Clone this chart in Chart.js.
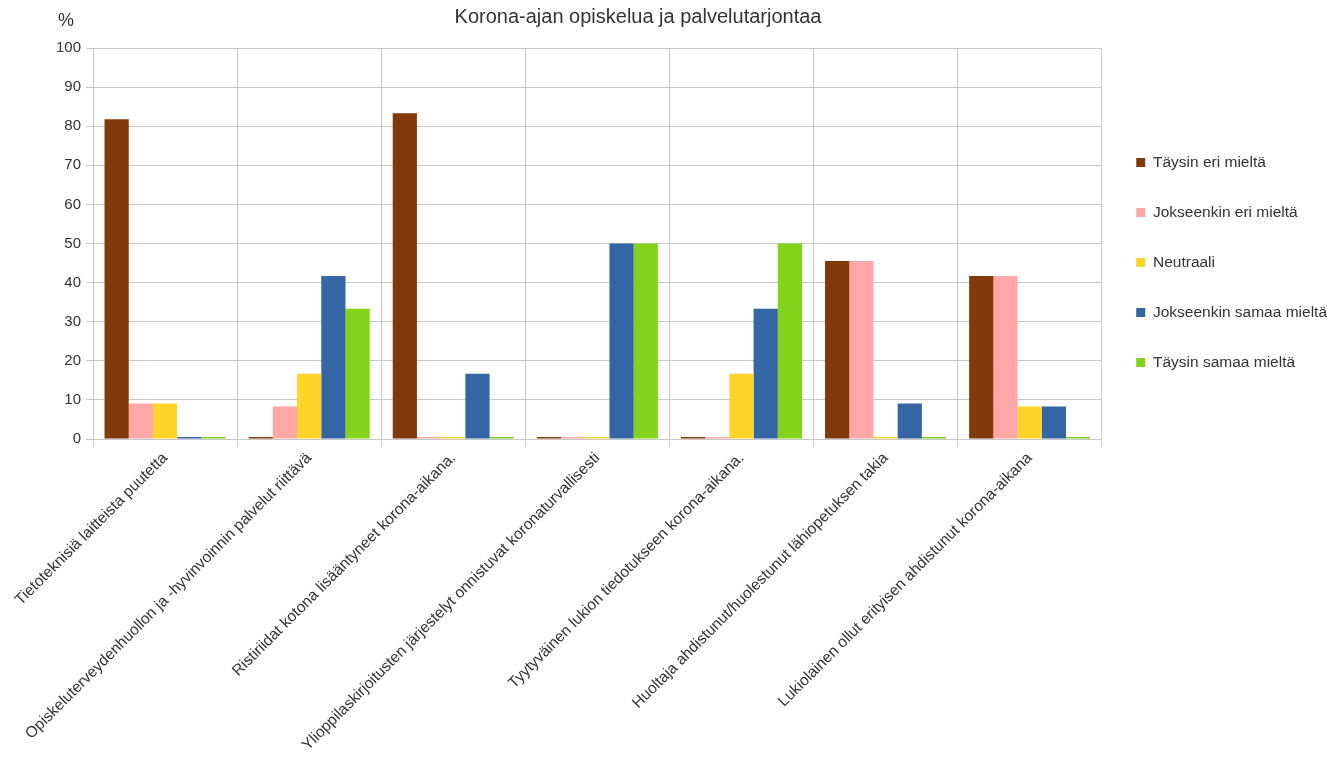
<!DOCTYPE html>
<html>
<head>
<meta charset="utf-8">
<script src="https://cdn.jsdelivr.net/npm/chart.js@4/dist/chart.umd.min.js"></script>
<style>
  body { margin: 0; background: #fff; }
  #wrap { width: 1343px; height: 760px; }
</style>
</head>
<body>
<div id="wrap"><canvas id="chart" width="1343" height="760"></canvas></div>
<script>
const categories = [
  "Tietoteknisiä laitteista puutetta",
  "Opiskeluterveydenhuollon ja -hyvinvoinnin palvelut riittävä",
  "Ristiriidat kotona lisääntyneet korona-aikana.",
  "Ylioppilaskirjoitusten järjestelyt onnistuvat koronaturvallisesti",
  "Tyytyväinen lukion tiedotukseen korona-aikana.",
  "Huoltaja ahdistunut/huolestunut lähiopetuksen takia",
  "Lukiolainen ollut erityisen ahdistunut korona-aikana",
];

const seriesNames = [
  "Täysin eri mieltä",
  "Jokseenkin eri mieltä",
  "Neutraali",
  "Jokseenkin samaa mieltä",
  "Täysin samaa mieltä",
];

const taysinEri = [81.8, 0, 83.3, 0, 0, 45.5, 41.7];
const jokseenkinEri = [9.1, 8.3, 0, 0, 0, 45.5, 41.7];
const neutraali = [9.1, 16.7, 0, 0, 16.7, 0, 8.3];
const jokseenkinSamaa = [0, 41.7, 16.7, 50, 33.3, 9.1, 8.3];
const taysinSamaa = [0, 33.3, 0, 50, 50, 0, 0];

const yTicks = [0, 10, 20, 30, 40, 50, 60, 70, 80, 90, 100];

const colors = ["#833a0b", "#ffa6a6", "#ffd428", "#3465a4", "#81d41a"];
const seriesValues = [taysinEri, jokseenkinEri, neutraali, jokseenkinSamaa, taysinSamaa];

const titleText = "Korona-ajan opiskelua ja palvelutarjontaa";
const textColor = "#333333";
const gridColor = "#c8c8c8";
const fontFamily = "'Liberation Sans', Arial, sans-serif";

// title and the "%" unit label drawn above the plot
const headerPlugin = {
  id: "header",
  afterDraw(chart) {
    const { ctx } = chart;
    ctx.save();
    ctx.fillStyle = textColor;
    ctx.textBaseline = "middle";
    ctx.font = `20px ${fontFamily}`;
    ctx.textAlign = "center";
    ctx.fillText(titleText, 638, 17);
    ctx.font = `18px ${fontFamily}`;
    ctx.textAlign = "left";
    ctx.fillText("%", 58, 21);
    ctx.restore();
  },
};

new Chart(document.getElementById("chart"), {
  type: "bar",
  data: {
    labels: categories,
    datasets: seriesNames.map((name, i) => ({
      label: name,
      data: seriesValues[i],
      backgroundColor: colors[i],
      borderWidth: 0,
      minBarLength: 2,
      categoryPercentage: 0.84,
      barPercentage: 1.0,
    })),
  },
  options: {
    responsive: false,
    animation: false,
    layout: { padding: { top: 48, right: 6, left: 0, bottom: 0 } },
    plugins: {
      title: { display: false },
      tooltip: { enabled: false },
      legend: {
        position: "right",
        fullSize: false,
        title: { display: true, text: " ", font: { size: 10 }, padding: 13 },
        labels: {
          color: textColor,
          font: { family: fontFamily, size: 15.5 },
          boxWidth: 9,
          boxHeight: 9,
          padding: 34.5,
        },
      },
    },
    scales: {
      x: {
        grid: { color: gridColor, offset: true, tickLength: 8 },
        border: { color: gridColor },
        ticks: {
          color: textColor,
          font: { family: fontFamily, size: 15.5 },
          maxRotation: 45,
          minRotation: 45,
          padding: 2,
        },
        afterFit(scale) { scale.height = 321; },
      },
      y: {
        min: 0,
        max: 100,
        afterBuildTicks(scale) { scale.ticks = yTicks.map((v) => ({ value: v })); },
        grid: { color: gridColor, tickLength: 7 },
        border: { color: gridColor },
        ticks: {
          color: textColor,
          font: { family: fontFamily, size: 15 },
          padding: 5,
        },
        afterFit(scale) { scale.width = 93; },
      },
    },
  },
  plugins: [headerPlugin],
});
</script>
</body>
</html>
